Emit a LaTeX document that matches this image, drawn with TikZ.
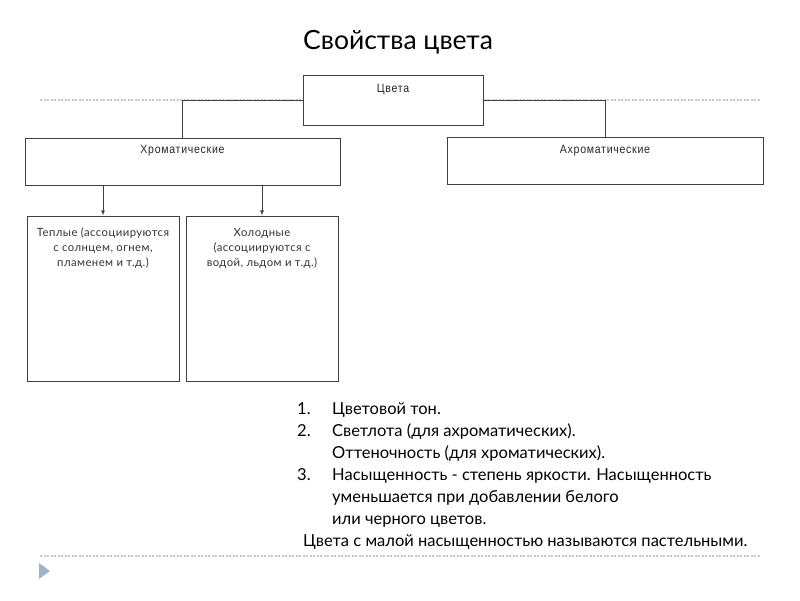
\documentclass[tikz,border=0pt]{standalone}
\usepackage{fontspec}
\setmainfont{Lato}
\newfontfamily\narrowfont[FakeStretch=0.88, LetterSpace=6]{Liberation Sans}
\newfontfamily\boxfont[LetterSpace=4]{Lato}
\usepackage{tikz}
\usetikzlibrary{arrows}
\usetikzlibrary{positioning}

\definecolor{dotline}{HTML}{B8C8D8}
\definecolor{marker}{HTML}{9DB4CA}
\definecolor{frame}{HTML}{404040}

\tikzset{
	box/.style={draw=frame, line width=1pt, fill=white, inner sep=0pt},
	hdr/.style={font=\narrowfont\fontsize{12}{14}\selectfont, text=black!85, text height=8.5pt, text depth=2.5pt},
	desc/.style={font=\boxfont\fontsize{11.3}{15}\selectfont, align=center, text=black!80},
	item/.style={font=\fontsize{16.5}{22}\selectfont, anchor=base west, inner sep=0pt},
	link/.style={draw=frame, line width=0.8pt},
}

\begin{document}
\begin{tikzpicture}[x=1pt,y=-1pt]
					\useasboundingbox (0,0) rectangle (800,600);
					
					% slide rules
					\draw[dotline, line width=1.5pt, dash pattern=on 2pt off 1.5pt] (40,100)--(760,100);
					\draw[dotline, line width=1.5pt, dash pattern=on 2pt off 1.5pt] (40,556)--(760,556);
					\fill[marker] (39,563) -- (50,571) -- (39,579) -- cycle;
					
					\node[font=\fontsize{26.5}{30}\selectfont] (title) at (398,42) {Свойства цвета};
					
					% boxes
					\node[box, minimum width=180pt, minimum height=50pt,
						label={[hdr, anchor=north, yshift=-6pt]90:Цвета}] (colors) at (393,100) {};
					\node[box, minimum width=315pt, minimum height=47pt,
						label={[hdr, anchor=north, yshift=-4pt]90:Хроматические}] (chrom) at (182.5,161.5) {};
					\node[box, minimum width=316pt, minimum height=47pt,
						label={[hdr, anchor=north, yshift=-5pt]90:Ахроматические}] (achrom) at (605,160.5) {};
					\node[box, minimum width=152pt, minimum height=165pt,
						label={[desc, anchor=north, yshift=-7pt]90:{\strut Теплые (ассоциируются\\с солнцем, огнем,\\пламенем и т.д.)}}] (warm) at (103,298.5) {};
					\node[box, minimum width=152pt, minimum height=165pt,
						label={[desc, anchor=north, yshift=-7pt]90:{\strut Холодные\\(ассоциируются с\\водой, льдом и т.д.)}}] (cold) at (262,298.5) {};
					
					% connectors
					\draw[link] (colors.west) -| (chrom.north);
					\draw[link] (colors.east) -| (achrom.north);
					\draw[link, ->, >=latex] (chrom.south -| warm.north) -- (warm.north);
					\draw[link, ->, >=latex] (chrom.south -| cold.north) -- (cold.north);
					
					% list
					\node[item] (n1) at (297,414) {1.};
					\node[item] (t1) at (332,414) {Цветовой тон.};
					\node[item] (n2) at (297,436) {2.};
					\node[item] (t2) at (332,436) {Светлота (для ахроматических).};
					\node[item] (t2b) at (332,458) {Оттеночность (для хроматических).};
					\node[item] (n3) at (297,480) {3.};
					\node[item] (t3) at (332,480) {Насыщенность - степень яркости. Насыщенность};
					\node[item] (t3b) at (332,502) {уменьшается при добавлении белого};
					\node[item] (t3c) at (332,524) {или черного цветов.};
					\node[item] (note) at (303,546) {Цвета с малой насыщенностью называются пастельными.};
\end{tikzpicture}
\end{document}
